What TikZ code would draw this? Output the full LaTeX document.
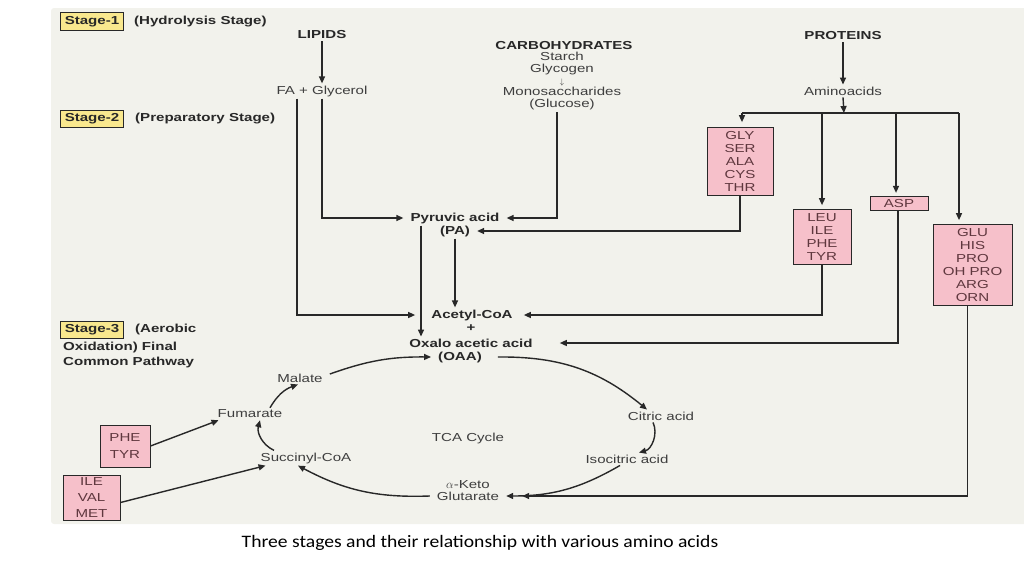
\documentclass[tikz,border=0pt]{standalone}
\usepackage{fontspec}
\setmainfont[FakeStretch=1.3]{Liberation Sans}
\newfontfamily\capfont[FakeStretch=1.12]{Carlito}
\usetikzlibrary{arrows.meta}

\definecolor{panel}{RGB}{242,242,236}
\definecolor{stagey}{RGB}{249,232,142}
\definecolor{aapink}{RGB}{246,192,202}
\definecolor{aatxt}{RGB}{95,55,62}
\definecolor{txt}{RGB}{62,62,62}
\definecolor{btxt}{RGB}{40,40,40}
\definecolor{ink}{RGB}{40,40,40}

\newcommand{\fs}{\fontsize{11.6}{12.9}\selectfont}

\tikzset{
  lbl/.style={font=\fs, text=txt, inner xsep=7pt, inner ysep=2pt},
  blbl/.style={lbl, font=\fs\bfseries, text=btxt},
  stagebox/.style={draw=ink, fill=stagey, font=\fs\bfseries, text=btxt, line width=1pt, inner xsep=4.5pt, inner ysep=3.5pt},
  aabox/.style={draw=ink, fill=aapink, font=\fs, text=aatxt, align=center, line width=1pt, inner xsep=2pt, inner ysep=4pt},
  ln/.style={draw=ink, line width=1.4pt},
  arr/.style={ln, -{Triangle[length=7pt,width=6pt]}},
}

\begin{document}
\begin{tikzpicture}[x=1pt,y=-1pt]
  \useasboundingbox (0,0) rectangle (1024,576);
  \fill[panel, rounded corners=3pt] (51,8) rectangle (1030,524);

  % STAGES
  \node[stagebox] (st1) at (92,21.5) {Stage-1};
  \node[blbl, anchor=west, inner sep=0pt] (st1t) at (134,22) {(Hydrolysis Stage)};
  \node[stagebox] (st2) at (92,119) {Stage-2};
  \node[blbl, anchor=west, inner sep=0pt] (st2t) at (135,119) {(Preparatory Stage)};
  \node[stagebox] (st3) at (92,330) {Stage-3};
  \node[blbl, anchor=west, inner sep=0pt] (st3t) at (135,329) {(Aerobic};
  \node[blbl, anchor=north west, inner sep=0pt, align=left, font=\fontsize{11.6}{15}\selectfont\bfseries] (st3u) at (63,342) {Oxidation) Final\\Common Pathway};

  % LIPIDS
  \node[blbl] (lipids) at (322,35) {LIPIDS};
  \node[lbl] (fagly) at (322,91) {FA + Glycerol};
  \draw[arr] (lipids) -- (fagly);

  % CARBOHYDRATES
  \node[blbl] (carbo) at (564,46) {CARBOHYDRATES};
  \node[lbl, align=center, font=\fontsize{11.6}{11.7}\selectfont] (gluc) at (562,81) {Starch\\Glycogen\\{\fontsize{8}{8}\selectfont$\downarrow$}\\Monosaccharides\\(Glucose)};

  % PROTEINS
  \node[blbl] (prot) at (843,36) {PROTEINS};
  \node[lbl] (amino) at (843,91) {Aminoacids};
  \draw[arr] (prot) -- (amino);
  \coordinate (jn) at (844,113);
  \coordinate (jg) at (742,113);
  \coordinate (jl) at (822,113);
  \coordinate (ja) at (896,113);
  \coordinate (je) at (959,113);
  \draw[arr] (amino.south) -- (jn);
  \draw[ln] (jg) -- (je);

  \node[aabox, minimum width=66pt] (gly) at (740,161.5) {GLY\\SER\\ALA\\CYS\\THR};
  \node[aabox, minimum width=58pt] (leu) at (822,237) {LEU\\ILE\\PHE\\TYR};
  \node[aabox, minimum width=58pt, inner ysep=3pt] (asp) at (899,203.5) {ASP};
  \node[aabox, minimum width=79pt] (glu) at (972.5,265) {GLU\\HIS\\PRO\\OH PRO\\ARG\\ORN};
  \draw[arr, shorten >=5pt] (jg) -- (jg |- gly.north);
  \draw[arr, shorten >=4pt] (jl) -- (jl |- leu.north);
  \draw[arr, shorten >=3pt] (ja) -- (ja |- asp.north);
  \draw[arr, shorten >=4pt] (je) -- (je |- glu.north);

  % PYRUVIC ACID AND ACETYL-COA
  \node[blbl] (pa1) at (455,218) {Pyruvic acid};
  \node[blbl] (pa2) at (455,231) {(PA)};
  \node[blbl] (acoa) at (472,315) {Acetyl-CoA};
  \node[blbl] (plus) at (471,328) {+};
  \node[blbl] (oxa) at (471,343) {Oxalo acetic acid};
  \node[blbl] (oaa) at (460,357) {(OAA)};

  \draw[arr] (fagly.south) |- (pa1.west);
  \draw[arr] ([xshift=-25pt]fagly.south) |- ([xshift=-9pt]acoa.west);
  \draw[arr] ([xshift=-5pt]gluc.south) |- (pa1.east);
  \draw[arr] (pa1.south -| 421,0) -- (oxa.north -| 421,0);
  \draw[arr] (pa2.south) -- (pa2.south |- acoa.north);

  \draw[arr] (gly.south) |- (pa2.east);
  \draw[arr] (leu.south) |- ([xshift=4pt]acoa.east);
  \draw[arr] ([xshift=-1pt]asp.south) |- ([xshift=20pt]oxa.east);

  % TCA CYCLE
  \node[lbl] (cit) at (661,416) {Citric acid};
  \node[lbl] (iso) at (627,459) {Isocitric acid};
  \node[lbl] (ak1) at (468,485) {$\alpha$-Keto};
  \node[lbl] (ak2) at (468,496) {Glutarate};
  \node[lbl] (succ) at (306,458) {Succinyl-CoA};
  \node[lbl] (fum) at (250,414) {Fumarate};
  \node[lbl] (mal) at (300,378) {Malate};
  \node[lbl] (tca) at (468,438) {TCA Cycle};

  \draw[arr] ([xshift=9pt]oaa.east) to[bend left=20] ([xshift=-14pt]cit.north);
  \draw[arr] ([xshift=-8pt]cit.south) to[bend left=50] ([xshift=12pt]iso.north);
  \draw[arr] ([xshift=-7pt]iso.south) to[bend left=15] (ak2.east);
  \draw[arr] (ak2.west) to[bend left=15] ([xshift=-8pt]succ.south);
  \draw[arr] ([xshift=-32pt]succ.north) to[bend left=40] ([xshift=10pt]fum.south);
  \draw[arr] ([xshift=20pt]fum.north) to[bend left=20] ([xshift=-2pt]mal.south);
  \draw[arr] ([yshift=4pt]mal.east) to[bend left=10] (oaa.west);

  \draw[arr] ([xshift=-5pt]glu.south) |- ([xshift=16pt]ak2.east);

  % AMINO ACIDS INTO THE CYCLE
  \node[aabox, minimum width=50pt, minimum height=42pt, font=\fontsize{11.6}{17.7}\selectfont] (phe) at (125,446) {PHE\\TYR};
  \node[aabox, minimum width=57pt, minimum height=45pt, inner ysep=1pt, font=\fontsize{11.6}{16}\selectfont] (ile) at (91.5,497.5) {ILE\\VAL\\MET};
  \draw[arr] (phe.east) -- ([xshift=8pt]fum.south west);
  \draw[arr] ([yshift=-5pt]ile.east) -- ([xshift=12pt]succ.south west);

  % CAPTION
  \node[font=\capfont\fontsize{17.5}{20}\selectfont, text=black] (cap) at (480,543) {Three stages and their relationship with various amino acids};
\end{tikzpicture}
\end{document}
